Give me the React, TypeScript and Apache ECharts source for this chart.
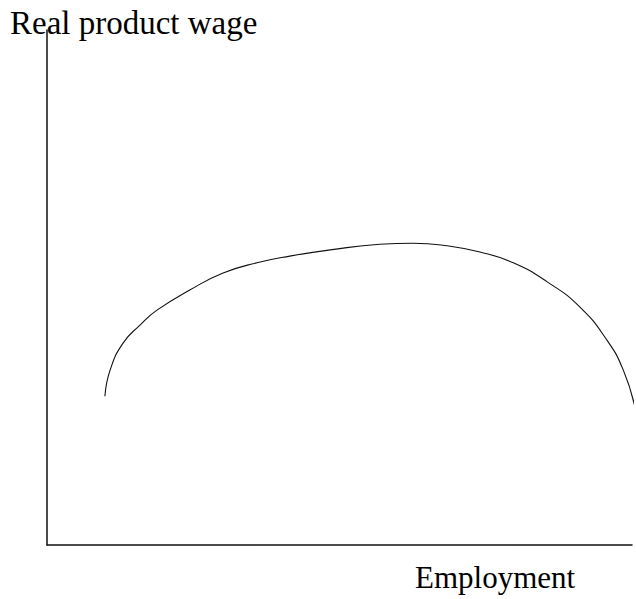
import React, { useEffect, useRef } from "react";
import * as echarts from "echarts";

const employment = [9.9, 10.8, 13.0, 15.9, 18.8, 24.4, 30.1, 35.9, 41.5, 48.4, 56.9, 62.6, 68.4, 74.0, 79.7, 85.5, 91.1, 95.7, 98.5, 100.5];
const realWage = [28.9, 34.0, 39.2, 42.7, 45.6, 49.5, 52.8, 54.8, 56.1, 57.3, 58.4, 58.6, 58.1, 56.9, 54.8, 51.1, 46.2, 39.8, 34.0, 26.8];
const yTitle = "Real product wage";
const xTitle = "Employment";

export default function App() {
  const ref = useRef<HTMLDivElement>(null);
  useEffect(() => {
    document.body.style.margin = "0";
    const chart = echarts.init(ref.current!, undefined, { renderer: "svg" });
    const family = '"Liberation Serif", "Times New Roman", serif';
    chart.setOption({
      animation: false,
      backgroundColor: "#ffffff",
      grid: { left: 47, right: 4, top: 30, bottom: 54 },
      xAxis: {
        type: "value",
        min: 0,
        max: 100,
        axisLine: { show: true, lineStyle: { color: "#111", width: 1.5 } },
        axisTick: { show: false },
        axisLabel: { show: false },
        splitLine: { show: false },
      },
      yAxis: {
        type: "value",
        min: 0,
        max: 100,
        axisLine: { show: true, lineStyle: { color: "#111", width: 1.5 } },
        axisTick: { show: false },
        axisLabel: { show: false },
        splitLine: { show: false },
      },
      series: [
        {
          type: "line",
          data: employment.map((x, i) => [x, realWage[i]]),
          smooth: 0.5,
          symbol: "none",
          clip: false,
          lineStyle: { color: "#111", width: 1.1 },
        },
      ],
      graphic: [
        {
          type: "text",
          left: 10,
          top: 6,
          style: { text: yTitle, font: "33px " + family, fill: "#000" },
          z: 10,
        },
        {
          type: "text",
          left: 415,
          top: 562,
          style: { text: xTitle, font: "31px " + family, fill: "#000" },
          z: 10,
        },
      ],
    });
    return () => chart.dispose();
  }, []);
  return <div ref={ref} style={{ width: 636, height: 599 }} />;
}
